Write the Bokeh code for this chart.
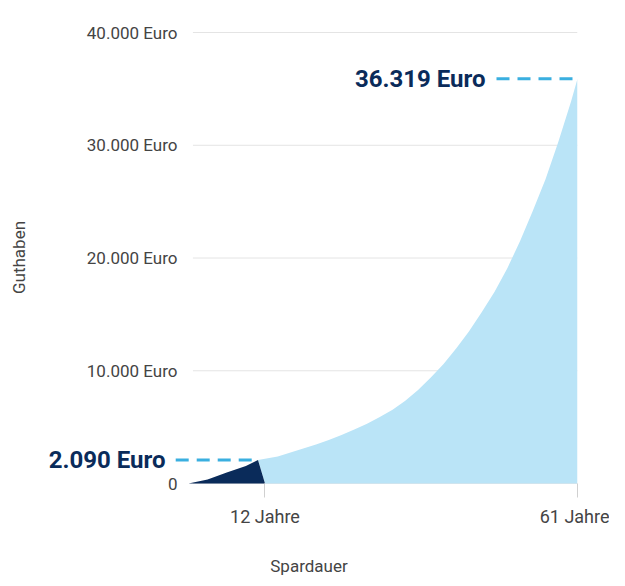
from bokeh.plotting import figure
from bokeh.models import Range1d, FixedTicker
from bokeh.core.properties import value
from bokeh.embed import file_html
from bokeh.resources import INLINE

# ---- data ----
years_phase1 = [0, 3, 6, 9, 10.9]
balance_phase1 = [0, 360, 980, 1560, 2090]
years_phase2 = [10.9, 14, 16, 18, 20, 22, 24, 26, 28, 30, 32, 34, 36, 38, 40,
                42, 44, 46, 48, 50, 52, 54, 56, 58, 60, 61]
balance_phase2 = [2090, 2400, 2750, 3100, 3450, 3850, 4300, 4800, 5300, 5900,
                  6550, 7350, 8300, 9400, 10600, 12000, 13500, 15200, 17000,
                  19100, 21500, 24200, 27000, 30300, 33900, 35900]
y_ticks = [0, 10000, 20000, 30000, 40000]
y_tick_labels = ["0", "10.000 Euro", "20.000 Euro", "30.000 Euro", "40.000 Euro"]
x_ticks = [12, 61]
x_tick_labels = ["12 Jahre", "61 Jahre"]
highlight_labels = ["2.090 Euro", "36.319 Euro"]

FONT = "Roboto"
NAVY = "#0a2b5a"
LIGHT = "#bae4f7"
DASH = "#3aafe0"
GREY_TXT = "#444444"

p = figure(width=609, height=578, output_backend="svg", toolbar_location=None,
           x_range=Range1d(-23.2, 61), y_range=Range1d(-798, 40887),
           min_border_left=40, min_border_top=22, min_border_right=32, min_border_bottom=86)
p.outline_line_color = None
p.background_fill_color = "white"
p.xgrid.grid_line_color = None
p.ygrid.grid_line_color = None

x_first = years_phase1[-1]
y_first = balance_phase1[-1]
x_last = years_phase2[-1]
y_last = balance_phase2[-1]
x_switch = x_ticks[0]

# gridlines across the plotting area only
p.segment(x0=[0.7] * len(y_ticks), x1=[x_last] * len(y_ticks), y0=y_ticks, y1=y_ticks,
          line_color="#e4e4e4", line_width=1)

# areas (phase boundary runs from the phase-1 peak down to the 12-year mark)
p.patch(x=years_phase2 + [x_last, x_switch], y=balance_phase2 + [0, 0],
        fill_color=LIGHT, line_color=None)
p.patch(x=years_phase1 + [x_switch], y=balance_phase1 + [0],
        fill_color=NAVY, line_color=None)

# y tick labels
p.text(x=[0] * len(y_ticks), y=y_ticks, text=y_tick_labels, x_offset=-11,
       text_align="right", text_baseline="middle", text_font=value(FONT),
       text_font_size="17px", text_color=GREY_TXT)

# y axis (only for the title)
ya = p.yaxis[0]
ya.ticker = FixedTicker(ticks=y_ticks)
ya.major_label_overrides = {t: "" for t in y_ticks}
ya.axis_line_color = None
ya.major_tick_line_color = None
ya.minor_tick_line_color = None
ya.major_label_standoff = 0
ya.axis_label = "Guthaben"
ya.axis_label_text_font = FONT
ya.axis_label_text_font_style = "normal"
ya.axis_label_text_font_size = "17px"
ya.axis_label_text_color = GREY_TXT
ya.axis_label_standoff = 6

# x axis
xa = p.xaxis[0]
xa.ticker = FixedTicker(ticks=x_ticks)
xa.major_label_overrides = {t: l for t, l in zip(x_ticks, x_tick_labels)}
xa.axis_line_color = None
xa.major_tick_line_color = "#d0d0d0"
xa.major_tick_in = 9
xa.major_tick_out = 5
xa.minor_tick_line_color = None
xa.major_label_standoff = 8
xa.major_label_text_font = FONT
xa.major_label_text_font_size = "18px"
xa.major_label_text_color = GREY_TXT
xa.axis_label = "Spardauer"
xa.axis_label_text_font = FONT
xa.axis_label_text_font_style = "normal"
xa.axis_label_text_font_size = "17px"
xa.axis_label_text_color = GREY_TXT
xa.axis_label_standoff = 26

# highlight annotations
p.segment(x0=[-2.0, 48.3], x1=[x_first, x_last], y0=[y_first, y_last], y1=[y_first, y_last],
          line_color=DASH, line_width=3, line_dash="13 8")
p.text(x=[0, x_last], y=[y_first, y_last], text=highlight_labels, x_offset=[-23, -92],
       text_align="right", text_baseline="middle", text_font=value(FONT),
       text_font_style="bold", text_font_size="24px", text_color=NAVY)

open("out.html", "w").write(file_html(p, INLINE))
